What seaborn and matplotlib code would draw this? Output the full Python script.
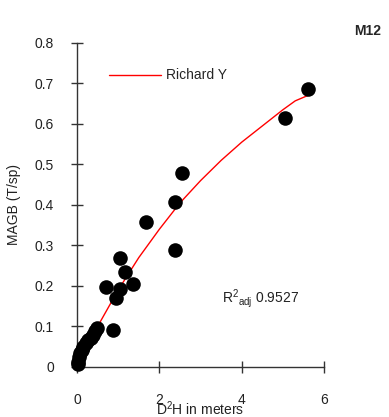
import numpy as np
import pandas as pd
import matplotlib
matplotlib.use("Agg")
import matplotlib.pyplot as plt
import seaborn as sns

# observed points (D2H in meters, MAGB T/sp)
d2h = [5.61, 5.05, 2.55, 2.38, 2.38, 1.67, 1.04, 1.16, 1.36, 0.70, 1.04, 0.95, 0.87,
       0.49, 0.44, 0.38, 0.33, 0.27, 0.22, 0.15, 0.12, 0.07, 0.05, 0.03, 0.02]
magb = [0.686, 0.615, 0.479, 0.407, 0.289, 0.358, 0.270, 0.235, 0.205, 0.198, 0.193, 0.170, 0.091,
        0.096, 0.088, 0.079, 0.072, 0.067, 0.058, 0.050, 0.042, 0.035, 0.025, 0.012, 0.008]

# fitted Richards curve
fit_x = [0.05, 0.5, 1.0, 1.5, 2.0, 2.5, 3.0, 3.5, 4.0, 4.5, 5.0, 5.3, 5.6]
fit_y = [0.012, 0.100, 0.190, 0.270, 0.340, 0.405, 0.460, 0.510, 0.555, 0.595, 0.635, 0.657, 0.670]

sns.set_style("white")
plt.rcParams['font.family'] = ['Liberation Sans', 'DejaVu Sans']
plt.rcParams['mathtext.fontset'] = 'custom'
plt.rcParams['mathtext.rm'] = 'Liberation Sans'

fig = plt.figure(figsize=(3.89, 4.17), dpi=100)
ax = fig.add_axes([0.198, 0.12, 0.635, 0.777])

pts = pd.DataFrame({'x': d2h, 'y': magb})
fit = pd.DataFrame({'x': fit_x, 'y': fit_y})

sns.lineplot(data=fit, x='x', y='y', ax=ax, color='red', linewidth=1, label='Richard Y',
             zorder=3, clip_on=False)
sns.scatterplot(data=pts, x='x', y='y', ax=ax, color='black', s=110, edgecolor='black',
                linewidth=0, zorder=4, clip_on=False, legend=False)

ax.set_xlim(0, 6)
ax.set_ylim(0, 0.8)
ax.set_xticks([0, 2, 4, 6])
ax.set_yticks(np.arange(0, 0.81, 0.1))
ax.set_yticklabels(['0', '0.1', '0.2', '0.3', '0.4', '0.5', '0.6', '0.7', '0.8'])

for s in ['top', 'right']:
    ax.spines[s].set_visible(False)
for s in ['left', 'bottom']:
    ax.spines[s].set_color('#333333')
    ax.spines[s].set_linewidth(1)

ax.tick_params(axis='both', bottom=True, left=True, direction='inout', length=9, width=1,
               color='#333333', labelsize=10, labelcolor='#222222')
ax.tick_params(axis='x', pad=14)
ax.tick_params(axis='y', pad=12)

ax.set_xlabel(r'D$^2$H in meters', fontsize=10, labelpad=-5, color='#222222')
ax.set_ylabel('MAGB (T/sp)', fontsize=10, labelpad=10, color='#222222')

ax.legend(loc='upper left', bbox_to_anchor=(0.08, 0.96), frameon=False, fontsize=10,
          handlelength=3.7, handletextpad=0.4)

ax.text(4.45, 0.17, r'R$^2$$_{\mathrm{adj}}$ 0.9527', fontsize=10, ha='center', va='center',
        color='#222222')
fig.text(0.945, 0.925, 'M12', fontsize=10, fontweight='bold', ha='center', va='center')

fig.savefig('out.png', dpi=100)
